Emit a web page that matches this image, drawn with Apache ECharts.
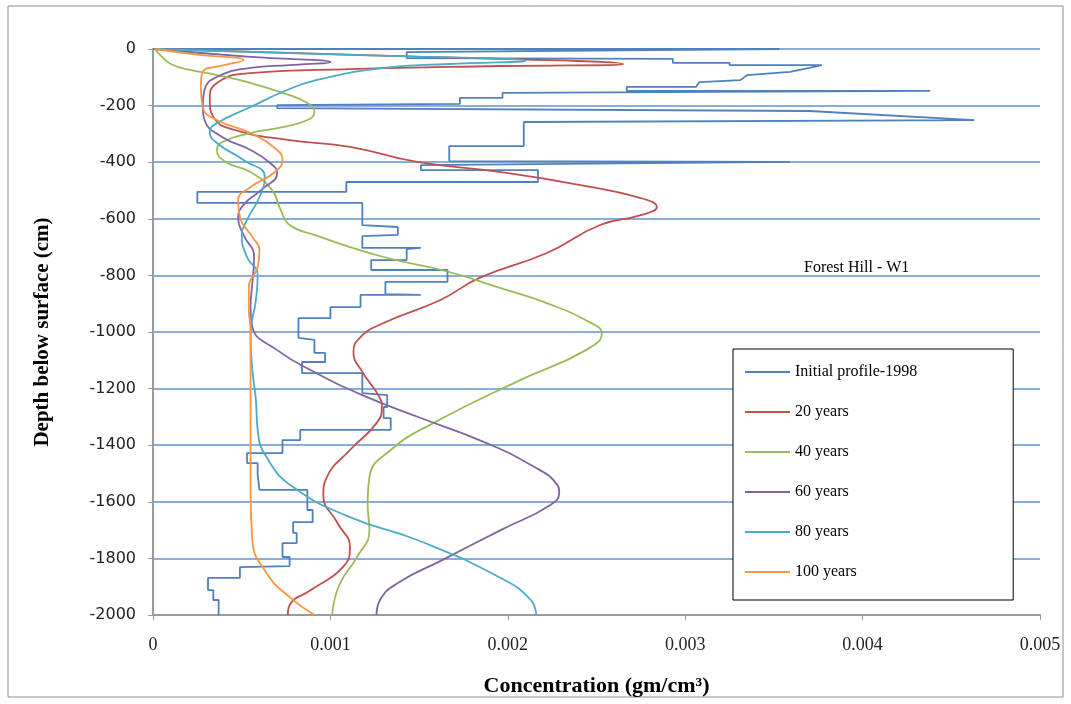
<!DOCTYPE html>
<html>
<head>
<meta charset="utf-8">
<script src="https://cdn.jsdelivr.net/npm/echarts@6/dist/echarts.min.js"></script>
<style>
html,body{margin:0;padding:0;background:#fff;}
#chart{width:1071px;height:704px;}
</style>
</head>
<body>
<div id="chart"></div>
<script>
// ---- data: [concentration (gm/cm3), depth (cm)] ----
const seriesNames = ["Initial profile-1998", "20 years", "40 years", "60 years", "80 years", "100 years"];
const xTicks = [0, 0.001, 0.002, 0.003, 0.004, 0.005];
const yTicks = [0, -200, -400, -600, -800, -1000, -1200, -1400, -1600, -1800, -2000];

const initialProfile = [
  [0,0],[0.00353,0],[0.00353,-7],[0.00143,-11],[0.00143,-32],[0.00293,-35],[0.00293,-49],
  [0.00325,-49],[0.00325,-57],[0.00377,-57],[0.00370,-67],[0.00359,-81],[0.00335,-92],
  [0.00331,-110],[0.00308,-117],[0.00306,-134],[0.00267,-134],[0.00267,-148],[0.00438,-148],
  [0.00438,-155],[0.00197,-155],[0.00197,-173],[0.00173,-173],[0.00173,-194],[0.00070,-198],
  [0.00070,-209],[0.00370,-219],[0.00463,-251],[0.00463,-258],[0.00209,-258],[0.00209,-343],
  [0.00167,-343],[0.00167,-396],[0.00359,-399],[0.00359,-403],[0.00151,-410],[0.00151,-428],
  [0.00217,-428],[0.00217,-470],[0.00109,-470],[0.00109,-505],[0.00025,-505],[0.00025,-544],
  [0.00118,-544],[0.00118,-622],[0.00138,-629],[0.00138,-657],[0.00118,-661],[0.00118,-703],
  [0.00151,-703],[0.00143,-707],[0.00143,-746],[0.00123,-746],[0.00123,-781],[0.00166,-781],
  [0.00166,-823],[0.00131,-823],[0.00131,-866],[0.00151,-869],[0.00117,-869],[0.00117,-912],
  [0.00100,-912],[0.00100,-951],[0.00082,-951],[0.00082,-1021],[0.00091,-1028],[0.00091,-1074],
  [0.00097,-1074],[0.00097,-1106],[0.00084,-1106],[0.00084,-1145],[0.00118,-1145],[0.00118,-1216],
  [0.00132,-1223],[0.00132,-1265],[0.00130,-1265],[0.00130,-1304],[0.00134,-1304],[0.00134,-1346],
  [0.00083,-1346],[0.00083,-1382],[0.00073,-1382],[0.00073,-1428],[0.00053,-1428],[0.00053,-1463],
  [0.00059,-1463],[0.00059,-1505],[0.00060,-1505],[0.00060,-1558],[0.00087,-1558],[0.00087,-1629],
  [0.00090,-1629],[0.00090,-1672],[0.00079,-1672],[0.00079,-1710],[0.00081,-1710],[0.00081,-1746],
  [0.00073,-1746],[0.00073,-1795],[0.00077,-1795],[0.00077,-1827],[0.00049,-1831],[0.00049,-1869],
  [0.00031,-1869],[0.00031,-1912],[0.00034,-1912],[0.00034,-1947],[0.00037,-1947],[0.00037,-2000]
];

const years20 = [
  [0.00001,0],[0.00139,-25],[0.00265,-53],[0.00196,-60],[0.00111,-71],[0.00055,-85],[0.00036,-120],
  [0.00032,-180],[0.00034,-240],[0.00046,-286],[0.00077,-322],[0.00111,-346],[0.00149,-399],
  [0.00196,-435],[0.00241,-481],[0.00275,-527],[0.00284,-558],[0.00275,-587],[0.00252,-622],
  [0.00222,-721],[0.00184,-809],[0.00162,-887],[0.00130,-968],[0.00117,-1018],[0.00113,-1071],
  [0.00118,-1141],[0.00127,-1223],[0.00129,-1265],[0.00126,-1322],[0.00111,-1417],[0.00098,-1513],
  [0.00096,-1576],[0.00104,-1675],[0.00111,-1760],[0.00107,-1831],[0.00089,-1912],[0.00077,-1965],
  [0.00076,-2000]
];

const years40 = [
  [0.00001,0],[0.00004,-21],[0.00010,-53],[0.00021,-74],[0.00036,-92],[0.00055,-120],[0.00073,-155],
  [0.00087,-191],[0.00091,-223],[0.00087,-251],[0.00073,-276],[0.00055,-297],[0.00039,-329],
  [0.00036,-357],[0.00041,-399],[0.00055,-435],[0.00067,-498],[0.00072,-569],[0.00077,-622],
  [0.00091,-657],[0.00130,-735],[0.00167,-788],[0.00196,-845],[0.00222,-898],[0.00246,-965],
  [0.00253,-1004],[0.00244,-1064],[0.00207,-1170],[0.00158,-1322],[0.00134,-1417],[0.00122,-1513],
  [0.00121,-1611],[0.00122,-1700],[0.00115,-1795],[0.00105,-1894],[0.00101,-2000]
];

const years60 = [
  [0.00001,0],[0.00055,-28],[0.00100,-46],[0.00077,-57],[0.00055,-67],[0.00036,-99],[0.00029,-145],
  [0.00028,-205],[0.00029,-251],[0.00039,-311],[0.00055,-357],[0.00066,-403],[0.00070,-438],
  [0.00061,-498],[0.00051,-551],[0.00048,-597],[0.00051,-657],[0.00057,-735],[0.00056,-827],
  [0.00055,-912],[0.00056,-982],[0.00070,-1064],[0.00092,-1145],[0.00118,-1223],[0.00151,-1304],
  [0.00184,-1382],[0.00213,-1470],[0.00228,-1541],[0.00229,-1566],[0.00224,-1611],[0.00196,-1700],
  [0.00163,-1806],[0.00138,-1887],[0.00128,-1947],[0.00126,-2000]
];

const years80 = [
  [0.00001,0],[0.00111,-21],[0.00210,-42],[0.00167,-53],[0.00130,-67],[0.00092,-110],[0.00073,-152],
  [0.00055,-205],[0.00036,-262],[0.00032,-293],[0.00036,-332],[0.00051,-392],[0.00063,-452],
  [0.00060,-523],[0.00053,-604],[0.00050,-657],[0.00053,-735],[0.00059,-799],[0.00058,-887],
  [0.00055,-1011],[0.00056,-1134],[0.00058,-1240],[0.00059,-1346],[0.00064,-1442],[0.00079,-1548],
  [0.00111,-1654],[0.00149,-1735],[0.00196,-1869],[0.00213,-1947],[0.00216,-2000]
];

const years100 = [
  [0.00001,0],[0.00026,-21],[0.00051,-39],[0.00038,-60],[0.00028,-81],[0.00027,-127],[0.00028,-205],
  [0.00036,-251],[0.00055,-297],[0.00070,-357],[0.00073,-392],[0.00068,-438],[0.00055,-488],
  [0.00048,-534],[0.00049,-594],[0.00056,-664],[0.00060,-710],[0.00059,-770],[0.00054,-841],
  [0.00054,-912],[0.00055,-1004],[0.00055,-1240],[0.00055,-1558],[0.00056,-1735],[0.00064,-1852],
  [0.00077,-1937],[0.00091,-2000]
];

const seriesData = [initialProfile, years20, years40, years60, years80, years100];
const colors = ["#4F81BD", "#C0504D", "#9BBB59", "#8064A2", "#4BACC6", "#F79646"];

const chart = echarts.init(document.getElementById('chart'), null, {renderer: 'canvas'});

const series = seriesData.map((d, i) => ({
  name: seriesNames[i],
  type: 'line',
  data: d,
  smooth: i === 0 ? false : 0.5,
  symbol: 'none',
  showSymbol: false,
  animation: false,
  lineStyle: {color: colors[i], width: 1.8},
  itemStyle: {color: colors[i]},
  z: 3 + i
}));

chart.setOption({
  animation: false,
  backgroundColor: '#ffffff',
  color: colors,
  grid: {left: 153, right: 31, top: 49, bottom: 89, containLabel: false},
  graphic: [{
    type: 'rect',
    shape: {x: 8, y: 6, width: 1055, height: 691},
    style: {fill: 'none', stroke: '#8c8c8c', lineWidth: 1},
    silent: true,
    z: -1
  }],
  title: {
    text: 'Forest Hill - W1',
    left: 804,
    top: 260,
    padding: 0,
    textStyle: {fontFamily: 'Liberation Serif', fontSize: 16, fontWeight: 'normal', color: '#000'}
  },
  legend: {
    orient: 'vertical',
    left: 733,
    top: 349,
    padding: [15, 96, 20, 12],
    icon: 'rect',
    itemWidth: 45,
    itemHeight: 2,
    itemGap: 24,
    backgroundColor: '#fff',
    borderColor: '#000',
    borderWidth: 1,
    borderRadius: 0,
    textStyle: {fontFamily: 'Liberation Serif', fontSize: 16, color: '#000', lineHeight: 16},
    data: seriesNames
  },
  xAxis: {
    type: 'value',
    min: xTicks[0],
    max: xTicks[xTicks.length - 1],
    interval: 0.001,
    name: 'Concentration (gm/cm³)',
    nameLocation: 'middle',
    nameGap: 60,
    nameTextStyle: {fontFamily: 'Liberation Serif', fontSize: 22, fontWeight: 'bold', color: '#000'},
    axisLine: {onZero: false, lineStyle: {color: '#9a9a9a', width: 2}},
    axisTick: {show: true, length: 5, lineStyle: {color: '#9a9a9a'}},
    axisLabel: {
      margin: 21,
      fontFamily: 'Liberation Serif',
      fontSize: 18,
      color: '#222',
      formatter: v => String(v)
    },
    splitLine: {show: false}
  },
  yAxis: {
    type: 'value',
    min: yTicks[yTicks.length - 1],
    max: yTicks[0],
    interval: 200,
    name: 'Depth below surface (cm)',
    nameLocation: 'middle',
    nameGap: 100,
    nameRotate: 90,
    nameTextStyle: {fontFamily: 'Liberation Serif', fontSize: 21, fontWeight: 'bold', color: '#000'},
    axisLine: {show: true, onZero: false, lineStyle: {color: '#9a9a9a', width: 2}},
    axisTick: {show: true, length: 5, lineStyle: {color: '#9a9a9a'}},
    axisLabel: {
      margin: 17,
      fontFamily: 'DejaVu Sans',
      fontSize: 16,
      color: '#222',
      formatter: v => String(v)
    },
    splitLine: {show: true, lineStyle: {color: '#6592cc', width: 1.5}}
  },
  series: series
});
</script>
</body>
</html>
